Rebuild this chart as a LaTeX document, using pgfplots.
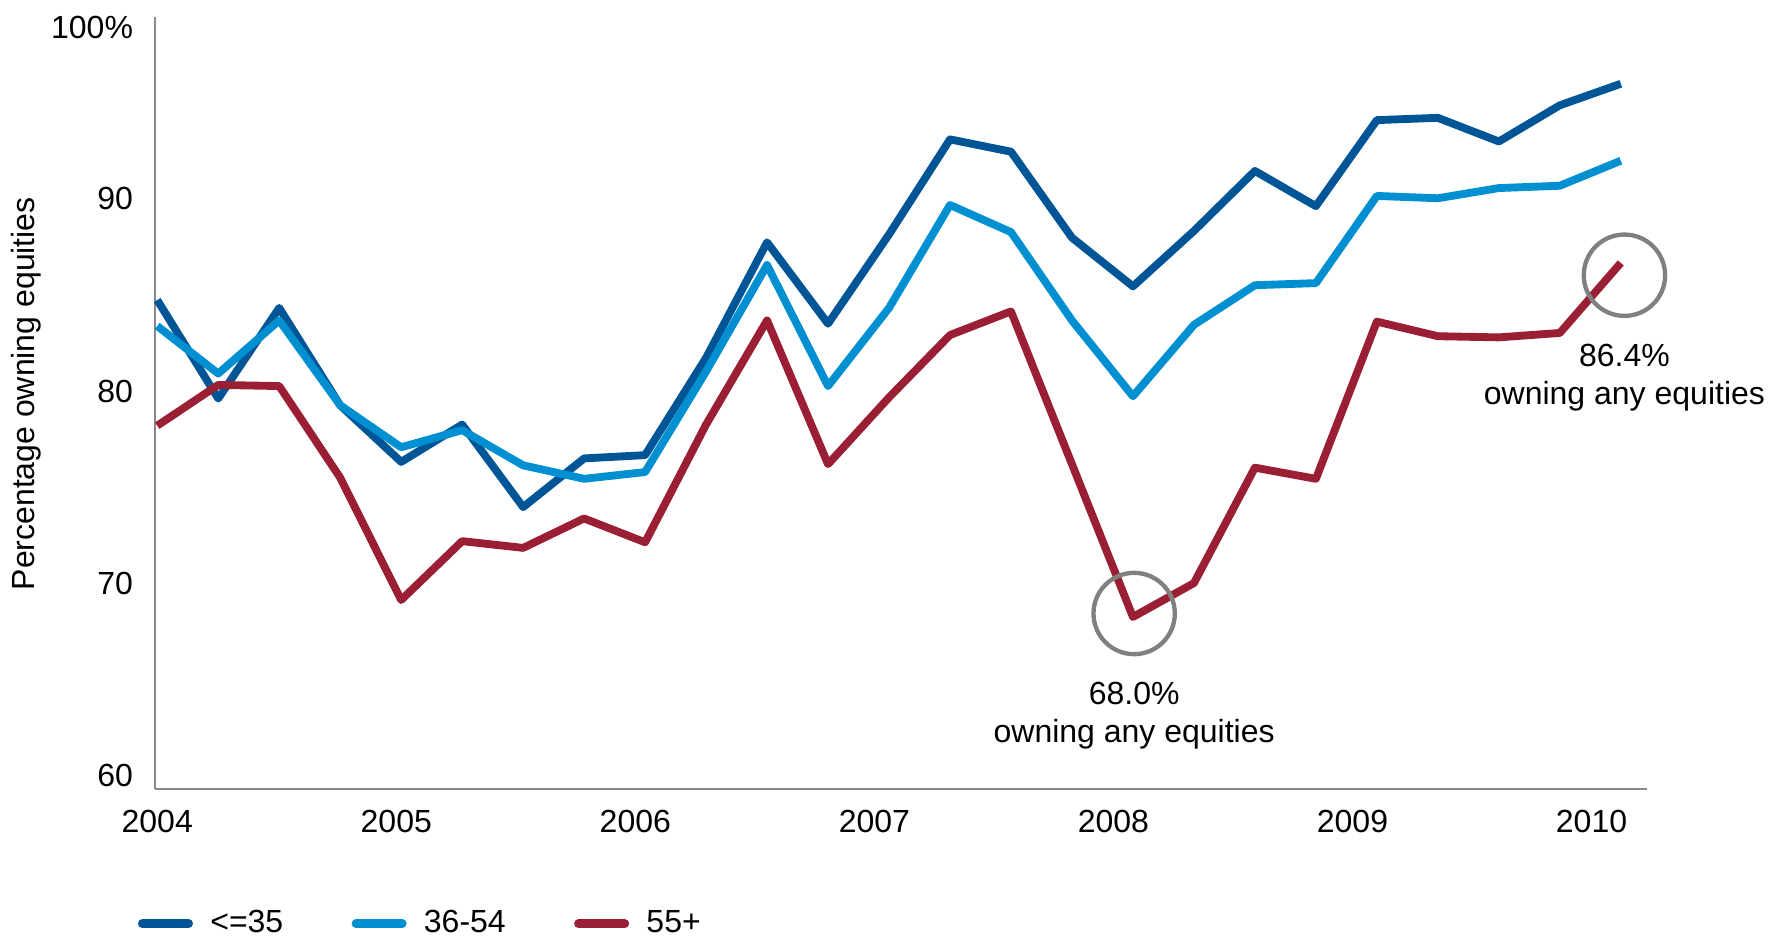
\documentclass[border=0pt]{standalone}
\usepackage{fontspec}
\setmainfont{Liberation Sans}
\usepackage{pgfplots}
\usepackage{pgfplotstable}
\pgfplotsset{compat=1.18}
\definecolor{cDark}{RGB}{0,85,150}
\definecolor{cLight}{RGB}{0,143,208}
\definecolor{cRed}{RGB}{155,31,52}
\definecolor{cGrey}{RGB}{128,128,128}
\definecolor{cAxis}{RGB}{137,137,137}

\pgfplotstableread{
i a b c
0 84.47 83.12 77.94
1 79.35 80.65 80.06
2 84.06 83.41 80.00
3 79.00 79.00 75.24
4 76.06 76.82 68.88
5 78.00 77.71 71.94
6 73.71 75.88 71.59
7 76.24 75.18 73.12
8 76.41 75.53 71.88
9 81.47 80.76 78.00
10 87.47 86.29 83.41
11 83.24 80.00 75.94
12 87.88 84.06 79.41
13 92.82 89.41 82.65
14 92.18 88.00 83.88
15 87.71 83.41 75.94
16 85.18 79.47 68.00
17 88.06 83.18 69.76
18 91.18 85.24 75.76
19 89.35 85.35 75.18
20 93.82 89.88 83.35
21 93.94 89.76 82.59
22 92.71 90.29 82.53
23 94.59 90.41 82.76
24 95.71 91.71 86.40
}\datatable

\begin{document}
\begin{tikzpicture}[font=\fontsize{9.6}{11.2}\selectfont]
\path[use as bounding box] (-46.5pt,-44.4pt) rectangle ++(532.5pt,281.1pt);
\begin{axis}[name=ax, at={(0,0)}, anchor=south west,
  scale only axis, width=447.6pt, height=231.6pt,
  xmin=-0.037, xmax=24.43, ymin=59.06, ymax=99.18,
  axis lines=left, axis line style={-, draw=cAxis, line width=0.6pt},
  xtick={0,3.92,7.84,11.76,15.68,19.6,23.52},
  xticklabels={2004,2005,2006,2007,2008,2009,2010},
  ytick={60,70,80,90,98.9},
  yticklabels={60,70,80,90,100\%},
  major tick length=0pt,
  /pgf/number format/assume math mode=true,
  xticklabel style={anchor=base, yshift=-13pt, inner sep=0pt},
  yticklabel style={anchor=east, xshift=-6.4pt, yshift=-1.5pt, inner sep=0pt},
  ylabel={Percentage owning equities},
  every axis y label/.style={at={(-0.0860,0.512)}, rotate=90, anchor=center},
  clip=false,
  legend columns=3,
  legend style={draw=none, fill=none, inner sep=0pt, outer sep=0pt,
    at={(-0.0114,-0.1745)}, anchor=west,
    nodes={inner sep=0pt},
    /tikz/every odd column/.append style={column sep=5.2pt},
    /tikz/every even column/.append style={column sep=20.5pt}},
  legend image code/.code={\draw[#1, line width=2.6pt, line cap=round] (1.3pt,0pt) -- (15.2pt,0pt);},
]
\addplot[cDark, line width=2.35pt, line join=round] table[x=i,y=a]{\datatable};
\addlegendentry{<=35}
\addplot[cLight, line width=2.35pt, line join=round] table[x=i,y=b]{\datatable};
\addlegendentry{36-54}
\addplot[cRed, line width=2.35pt, line join=round] table[x=i,y=c]{\datatable};
\addlegendentry{55+}
\draw[cGrey, line width=1.3pt] (axis cs:16.02,68.18) circle[radius=12.2pt];
\draw[cGrey, line width=1.3pt] (axis cs:24.06,85.76) circle[radius=12.2pt];
\node[align=center, inner sep=0pt] at (axis cs:16.02,62.88) {68.0\%\\owning any equities};
\node[align=center, inner sep=0pt] at (axis cs:24.06,80.44) {86.4\%\\owning any equities};
\end{axis}
\end{tikzpicture}
\end{document}
